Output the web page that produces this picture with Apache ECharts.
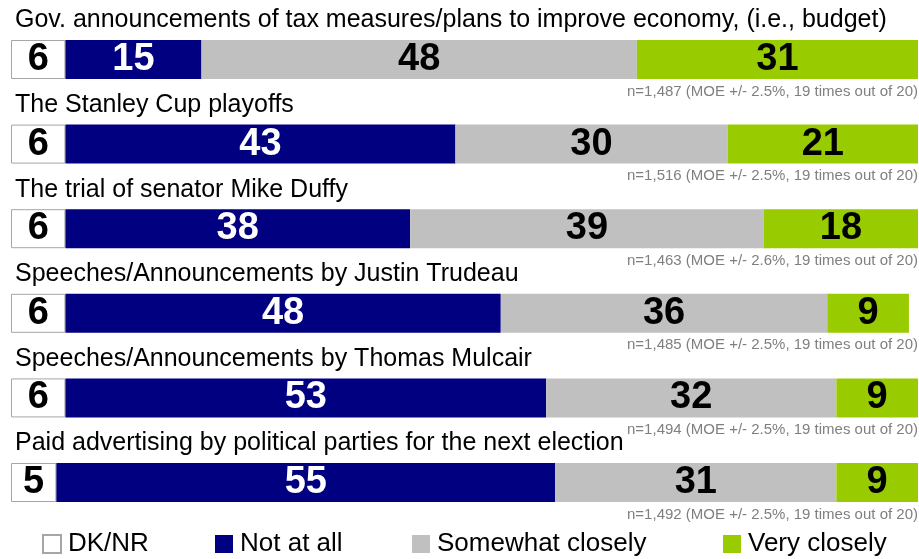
<!DOCTYPE html>
<html>
<head>
<meta charset="utf-8">
<script src="https://cdn.jsdelivr.net/npm/echarts@6/dist/echarts.min.js"></script>
<style>
  html, body { margin: 0; padding: 0; background: #ffffff; }
  #chart { width: 919px; height: 559px; }
</style>
</head>
<body>
<div id="chart"></div>
<script>
// Topics followed, in display order (top to bottom)
const categories = [
  "Gov. announcements of tax measures/plans to improve economy, (i.e., budget)",
  "The Stanley Cup playoffs",
  "The trial of senator Mike Duffy",
  "Speeches/Announcements by Justin Trudeau",
  "Speeches/Announcements by Thomas Mulcair",
  "Paid advertising by political parties for the next election"
];

// Response shares (%)
const dkNr      = [6, 6, 6, 6, 6, 5];
const notAtAll  = [15, 43, 38, 48, 53, 55];
const somewhat  = [48, 30, 39, 36, 32, 31];
const veryClose = [31, 21, 18, 9, 9, 9];

// Sample notes per topic
const sampleSizes = ["1,487", "1,516", "1,463", "1,485", "1,494", "1,492"];
const marginsOfError = ["2.5", "2.5", "2.6", "2.5", "2.5", "2.5"];

const seriesNames = ["DK/NR", "Not at all", "Somewhat closely", "Very closely"];

const chart = echarts.init(document.getElementById('chart'));

const baseFont = "'Liberation Sans', Arial, Helvetica, sans-serif";
const labelFont = "'Liberation Sans Narrow', 'Arial Narrow', 'Liberation Sans', Arial, sans-serif";

function barLabel(color) {
  return {
    show: true,
    position: 'inside',
    color: color,
    fontFamily: labelFont,
    fontWeight: 'bold',
    fontSize: 38,
    formatter: p => p.value
  };
}

const BAR_H = 39;

const option = {
  animation: false,
  backgroundColor: '#ffffff',
  grid: { left: 11, right: 1, top: 17.2, bottom: 34.2, containLabel: false },
  xAxis: {
    type: 'value', min: 0, max: 100,
    show: false
  },
  yAxis: {
    type: 'category', data: categories, inverse: true,
    show: false
  },
  legend: seriesNames.map((name, i) => ({
    data: [name],
    left: [37, 210, 407, 718][i],
    top: 526,
    icon: 'rect',
    itemWidth: 18,
    itemHeight: 18,
    textStyle: {
      fontFamily: baseFont, fontSize: 26, color: '#000000',
      padding: [0, 0, 0, 2]
    },
    selectedMode: false
  })),
  series: [
    {
      name: seriesNames[0], type: 'bar', stack: 'total', barWidth: BAR_H,
      data: dkNr,
      itemStyle: { color: '#ffffff', borderColor: '#a6a6a6', borderWidth: 1 },
      label: barLabel('#000000')
    },
    {
      name: seriesNames[1], type: 'bar', stack: 'total', barWidth: BAR_H,
      data: notAtAll,
      itemStyle: { color: '#000080' },
      label: barLabel('#ffffff')
    },
    {
      name: seriesNames[2], type: 'bar', stack: 'total', barWidth: BAR_H,
      data: somewhat,
      itemStyle: { color: '#c0c0c0' },
      label: barLabel('#000000')
    },
    {
      name: seriesNames[3], type: 'bar', stack: 'total', barWidth: BAR_H,
      data: veryClose,
      itemStyle: { color: '#99cc00' },
      label: barLabel('#000000')
    }
  ]
};

chart.setOption(option);

// Topic headings above each bar and sample notes beneath, placed from the category axis
const graphics = [];
categories.forEach((cat, i) => {
  const cy = chart.convertToPixel({ yAxisIndex: 0 }, i);
  graphics.push({
    type: 'text', left: 15, top: cy - 38.5 - 13,
    style: {
      text: cat, fontFamily: baseFont, fontSize: 25, fill: '#000000',
      verticalAlign: 'top'
    }
  });
  graphics.push({
    type: 'text', right: 1, top: cy + 32.5 - 8,
    style: {
      text: 'n=' + sampleSizes[i] + ' (MOE +/- ' + marginsOfError[i] + '%, 19 times out of 20)',
      fontFamily: baseFont, fontSize: 15, fill: '#7f7f7f',
      verticalAlign: 'top'
    }
  });
});

chart.setOption({ graphic: graphics });
</script>
</body>
</html>
